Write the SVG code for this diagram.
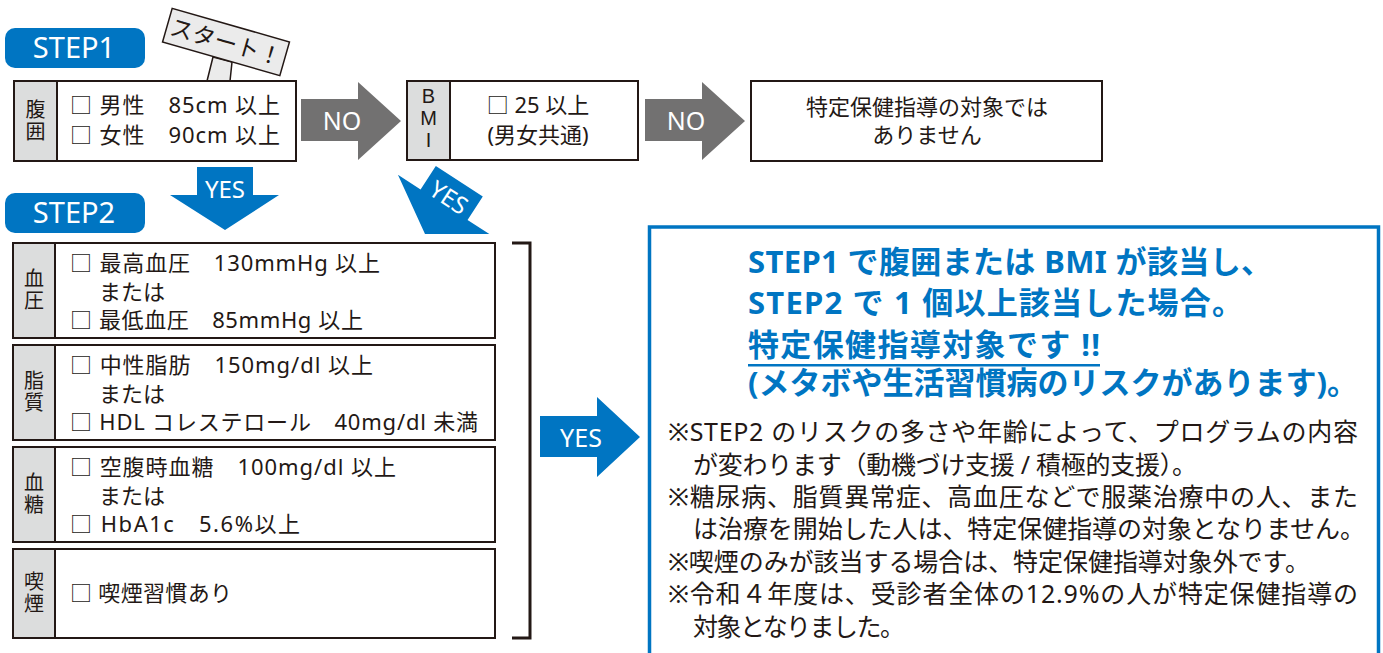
<svg xmlns="http://www.w3.org/2000/svg" width="1383" height="653" viewBox="0 0 1383 653">
<style>
.t{font-family:"Noto Sans","Noto Sans CJK JP",sans-serif;fill:#231815;font-size:22px}
.v{font-family:"Noto Sans CJK JP",sans-serif;fill:#231815;font-size:20px;text-anchor:middle;writing-mode:vertical-rl;letter-spacing:2px}
.bm{font-family:"Liberation Sans",Arial,sans-serif;fill:#231815;font-size:20px;text-anchor:middle}
.box{fill:#fff;stroke:#231815;stroke-width:2}
.lab{fill:#dcdddd;stroke:#231815;stroke-width:2}
.blue{fill:#0075c2}
.gray{fill:#727171}
.w{fill:#fff;font-family:"Noto Sans","Noto Sans CJK JP",sans-serif;text-anchor:middle}
.c{text-anchor:middle}
.h{font-family:"Noto Sans","Noto Sans CJK JP",sans-serif;fill:#0075c2;font-weight:700;font-size:31px}
.n{font-family:"Noto Sans","Noto Sans CJK JP",sans-serif;fill:#231815;font-size:25px}
</style>

<g id="step1-label">
<rect class="blue" x="5" y="28" width="140" height="40" rx="10"/>
<text class="w" x="74" y="58" font-size="29">STEP1</text>
</g>
<g id="step2-label">
<rect class="blue" x="5" y="193" width="140" height="40" rx="10"/>
<text class="w" x="74" y="223" font-size="29">STEP2</text>
</g>

<g id="start-sign">
<polygon points="213,57 232,62 230,81 207,81" fill="#ebebeb" stroke="#231815" stroke-width="1.5"/>
<g transform="translate(226,42) rotate(16)">
<rect x="-61" y="-17.5" width="122" height="35" fill="#ebebeb" stroke="#231815" stroke-width="1.5"/>
<text x="0" y="8.5" font-family="Noto Sans CJK JP, sans-serif" font-size="23" fill="#231815" text-anchor="middle">スタート！</text>
</g>
</g>

<g id="waist">
<rect class="box" x="14" y="81" width="282" height="80"/>
<rect class="lab" x="14" y="81" width="43" height="80"/>
<text class="v" x="35.5" y="121">腹囲</text>
<text class="t" x="70" y="113" textLength="210">□ 男性　85cm 以上</text>
<text class="t" x="70" y="143" textLength="210">□ 女性　90cm 以上</text>
</g>

<g id="bmi">
<rect class="box" x="407" y="81" width="231" height="79"/>
<rect class="lab" x="407" y="81" width="43" height="79"/>
<text class="bm"><tspan x="428.5" y="103">B</tspan><tspan x="428.5" y="125">M</tspan><tspan x="428.5" y="147">I</tspan></text>
<text class="t c" x="538" y="113">□ 25 以上</text>
<text class="t c" x="538" y="143">(男女共通)</text>
</g>

<g id="not-target">
<rect class="box" x="751" y="81" width="351" height="80"/>
<text class="t c" x="927" y="115" font-size="22.5">特定保健指導の対象では</text>
<text class="t c" x="927" y="143" font-size="22.5">ありません</text>
</g>

<g id="blood-pressure">
<rect class="box" x="13" y="243" width="482" height="95"/>
<rect class="lab" x="13" y="243" width="42" height="95"/>
<text class="v" x="34" y="290.5">血圧</text>
<text class="t" x="70" y="271" textLength="310">□ 最高血圧　130mmHg 以上</text>
<text class="t" x="99" y="300">または</text>
<text class="t" x="70" y="328" textLength="293">□ 最低血圧　85mmHg 以上</text>
</g>

<g id="lipid">
<rect class="box" x="13" y="345" width="482" height="95"/>
<rect class="lab" x="13" y="345" width="42" height="95"/>
<text class="v" x="34" y="392.5">脂質</text>
<text class="t" x="70" y="373" textLength="303">□ 中性脂肪　150mg/dl 以上</text>
<text class="t" x="99" y="402">または</text>
<text class="t" x="70" y="430" textLength="408">□ HDL コレステロール　40mg/dl 未満</text>
</g>

<g id="blood-sugar">
<rect class="box" x="13" y="447" width="482" height="95"/>
<rect class="lab" x="13" y="447" width="42" height="95"/>
<text class="v" x="34" y="494.5">血糖</text>
<text class="t" x="70" y="475" textLength="326">□ 空腹時血糖　100mg/dl 以上</text>
<text class="t" x="99" y="504">または</text>
<text class="t" x="70" y="532" textLength="230">□ HbA1c　5.6%以上</text>
</g>

<g id="smoking">
<rect class="box" x="13" y="549" width="482" height="89"/>
<rect class="lab" x="13" y="549" width="42" height="89"/>
<text class="v" x="34" y="593.5">喫煙</text>
<text class="t" x="70" y="601" textLength="162">□ 喫煙習慣あり</text>
</g>

<g id="target-box">
<rect x="649.5" y="227" width="729" height="450" fill="#fff" stroke="#0075c2" stroke-width="3.5"/>
<text class="h" x="748" y="273" textLength="524">STEP1 で腹囲または BMI が該当し、</text>
<text class="h" x="748" y="314" textLength="495">STEP2 で 1 個以上該当した場合。</text>
<text class="h" x="748" y="356" textLength="352">特定保健指導対象です !!</text>
<rect x="748" y="364" width="352" height="2.5" fill="#0075c2"/>
<text class="h" x="748" y="394" font-size="25.5">(メタボや生活習慣病のリスクがあります)。</text>
<text class="n" x="668" y="441" textLength="690">※STEP2 のリスクの多さや年齢によって、プログラムの内容</text>
<text class="n" x="693" y="474" textLength="504">が変わります（動機づけ支援 / 積極的支援）。</text>
<text class="n" x="668" y="506" textLength="690">※糖尿病、脂質異常症、高血圧などで服薬治療中の人、また</text>
<text class="n" x="693" y="538" textLength="672">は治療を開始した人は、特定保健指導の対象となりません。</text>
<text class="n" x="668" y="571" textLength="642">※喫煙のみが該当する場合は、特定保健指導対象外です。</text>
<text class="n" x="668" y="603" textLength="690">※令和４年度は、受診者全体の12.9%の人が特定保健指導の</text>
<text class="n" x="693" y="636" textLength="212">対象となりました。</text>
</g>

<g id="connectors">
<path d="M301,99 H358 V82 L401,121 L358,160 V141 H301 Z" class="gray"/>
<text class="w" x="342" y="130" font-size="25">NO</text>
<path d="M645,99 H702 V82 L745,121 L702,160 V141 H645 Z" class="gray"/>
<text class="w" x="686" y="130" font-size="25">NO</text>
<path d="M197,167 H253 V195 H279 L225,230 L170,195 H197 Z" class="blue"/>
<text class="w" x="225" y="198" font-size="24">YES</text>
<g transform="translate(425,234) rotate(33)">
<path d="M0,0 L-55,-35 H-28 V-63 H28 V-35 H54 Z" class="blue"/>
<text class="w" x="0" y="-35" font-size="24">YES</text>
</g>
<path d="M540,416 H597 V397 L640,437 L597,477 V457 H540 Z" class="blue"/>
<text class="w" x="581" y="447" font-size="25">YES</text>
<path d="M512,243 H530 V638 H512" fill="none" stroke="#231815" stroke-width="3"/>
</g>
</svg>
